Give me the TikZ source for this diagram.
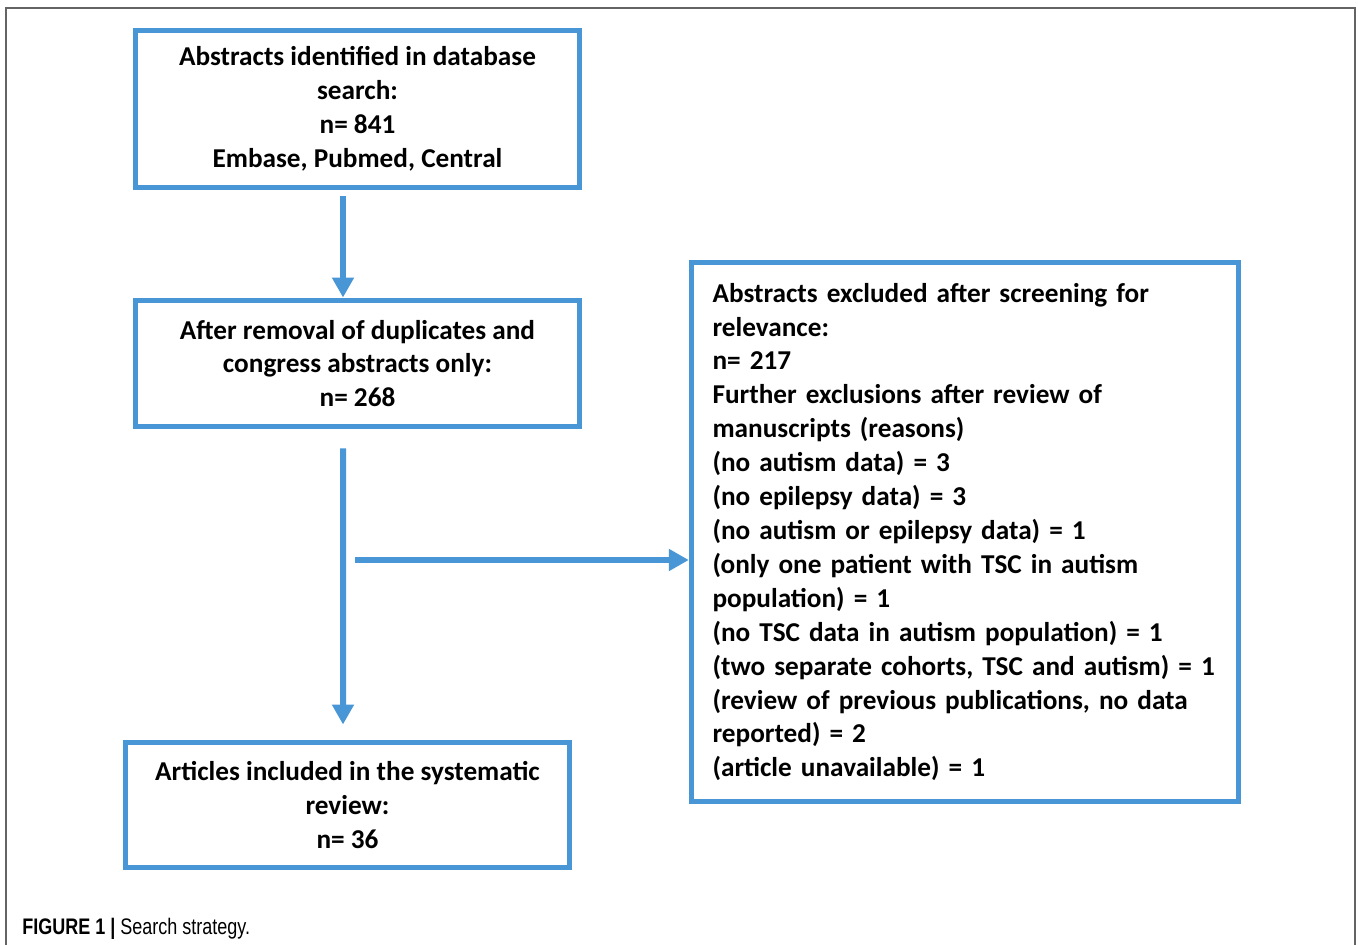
\documentclass[tikz,border=0pt]{standalone}
\usepackage{fontspec}
\setmainfont{Carlito}
\newfontfamily\capfont{Liberation Sans}[FakeStretch=0.8]
\usetikzlibrary{arrows.meta,positioning}
\definecolor{flowblue}{RGB}{72,150,214}
\definecolor{framegray}{RGB}{100,100,100}

\begin{document}
\begin{tikzpicture}[x=0.02cm,y=-0.02cm,>={Triangle[length=0.4cm,width=0.42cm]},line join=miter,
    box/.style={draw=flowblue,line width=0.1cm,inner sep=0pt,font=\fontsize{15.5}{19.3}\selectfont\bfseries},
    arr/.style={->,draw=flowblue,line width=0.12cm}]
    \useasboundingbox[fill=white] (0,0) rectangle (1358,945);
    % outer frame of the figure
    \draw[framegray,line width=0.04cm] (6,945)--(6,8)--(1355,8)--(1355,945);
    % boxes
    \node[box,minimum width=8.9cm,minimum height=3.16cm,align=center] (found) at (357.5,109)
      {Abstracts identified in database\\search:\\n= 841\\Embase, Pubmed, Central};
    \node[box,minimum width=8.9cm,minimum height=2.54cm,align=center] (dedup) at (357.5,363.5)
      {After removal of duplicates and\\congress abstracts only:\\n= 268};
    \node[box,minimum width=10.95cm,minimum height=10.8cm,align=left,text width=10.1cm] (excl) at (965,532)
      {Abstracts excluded after screening for\\relevance:\\n= 217\\Further exclusions after review of\\manuscripts (reasons)\\(no autism data) = 3\\(no epilepsy data) = 3\\(no autism or epilepsy data) = 1\\(only one patient with TSC in autism\\population) = 1\\(no TSC data in autism population) = 1\\(two separate cohorts, TSC and autism) = 1\\(review of previous publications, no data\\reported) = 2\\(article unavailable) = 1};
    \node[box,minimum width=8.9cm,minimum height=2.52cm,align=center] (incl) at (347.5,805)
      {Articles included in the systematic\\review:\\n= 36};
    % connectors
    \coordinate (branch) at (355,560);
    \draw[arr] ([xshift=-0.29cm,yshift=-0.12cm]found.south) -- ([xshift=-0.29cm]dedup.north);
    \draw[arr] ([xshift=-0.29cm,yshift=-0.38cm]dedup.south) -- ([xshift=-0.09cm,yshift=0.3cm]incl.north);
    \draw[arr] (branch) -- (branch -| excl.west);
    % caption
    \node[anchor=base west,inner sep=0pt,font=\capfont\fontsize{12.8}{15}\selectfont] (cap) at (22,934)
      {\textbf{FIGURE 1 |} Search strategy.};
  \end{tikzpicture}
\end{document}
